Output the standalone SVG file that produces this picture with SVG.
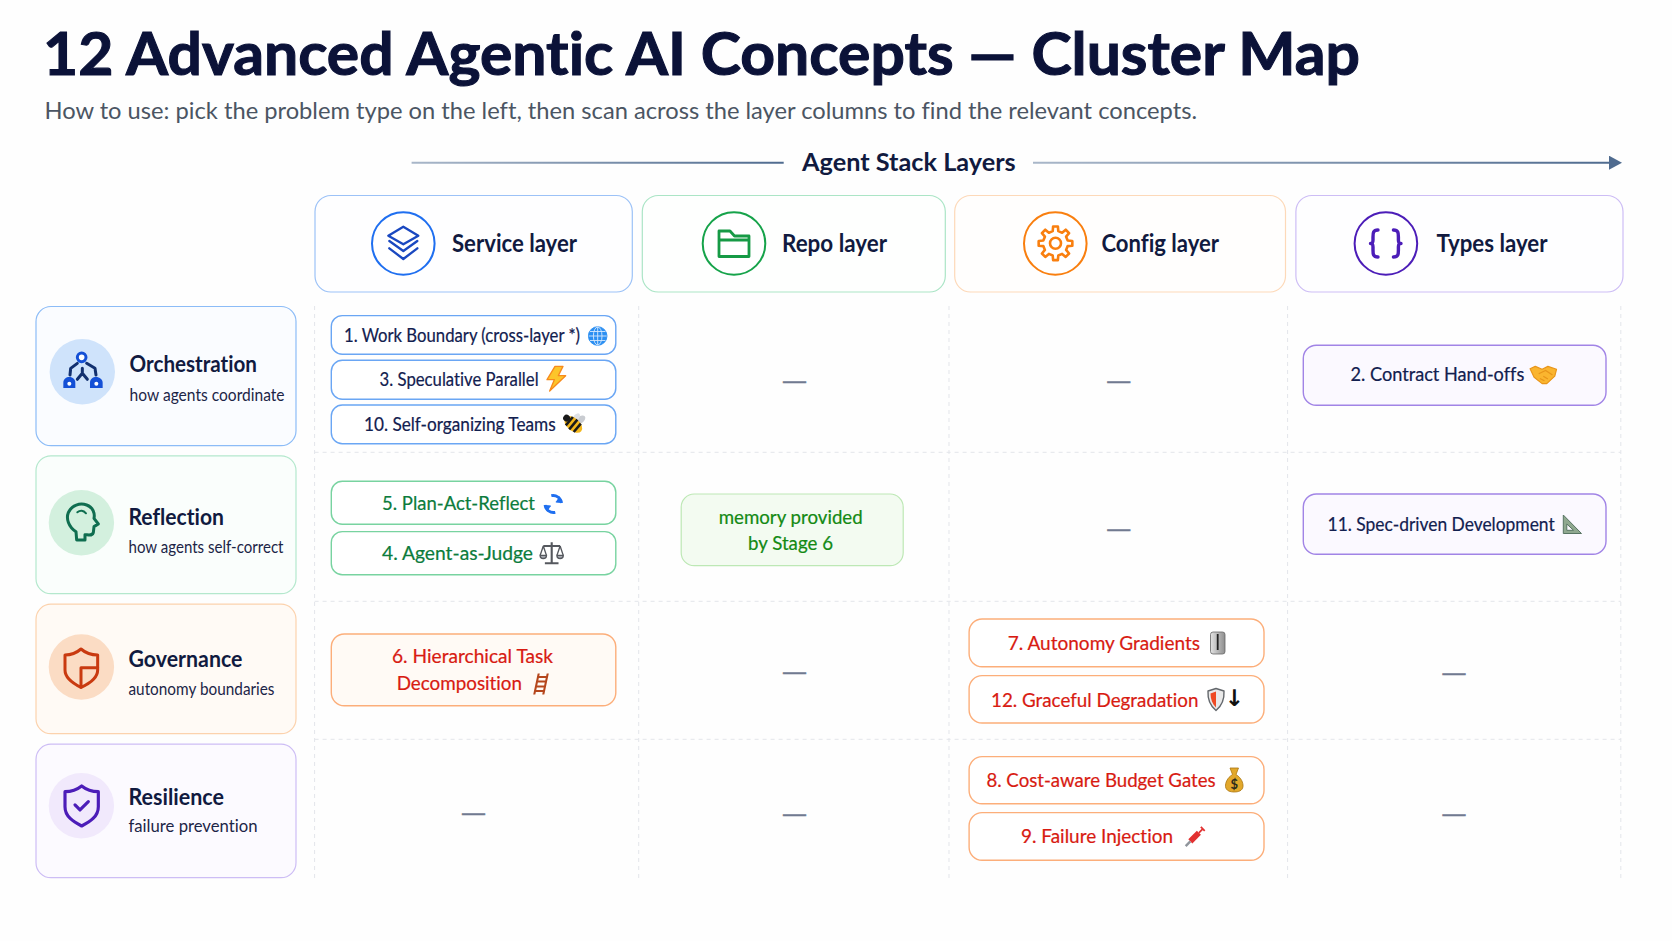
<svg xmlns="http://www.w3.org/2000/svg" width="1672" height="941" viewBox="0 0 1672 941">
<style>
text{font-family:"Lato","Liberation Sans",sans-serif;font-kerning:normal;font-variant-ligatures:none}
.title{font-size:60px;font-weight:700;fill:#0b1238;stroke:#0b1238;stroke-width:1.1}
.sub{font-size:23px;fill:#4b5563}
.axis{font-size:24px;font-weight:700;fill:#111a3f}
.hd{font-size:24px;font-weight:700;fill:#111a3f}
.rt{font-size:23px;font-weight:700;fill:#111a3f}
.rs{font-size:16.5px;fill:#1c2547}
.p{font-size:18.5px;stroke-width:.2}
.navy{fill:#12204f;stroke:#12204f}.green{fill:#0c7c3c;stroke:#0c7c3c}.mem{fill:#138a14;stroke:#138a14}.red{fill:#d81b12;stroke:#d81b12}
.dash{font-size:24px;fill:#717a90;stroke:#717a90;stroke-width:.5}
.card{stroke-width:1.2}
.pill{stroke-width:1.4}
.grid{stroke:#e3e5ea;stroke-width:1;stroke-dasharray:4 4;fill:none}
.ic{fill:none;stroke-linejoin:round;stroke-linecap:round}
</style>
<defs>
<linearGradient id="ax1" gradientUnits="userSpaceOnUse" x1="411" y1="0" x2="784" y2="0"><stop offset="0" stop-color="#a9b7c9"/><stop offset="1" stop-color="#4f6b8f"/></linearGradient>
<linearGradient id="ax2" gradientUnits="userSpaceOnUse" x1="1033" y1="0" x2="1612" y2="0"><stop offset="0" stop-color="#a9b7c9"/><stop offset="1" stop-color="#4f6b8f"/></linearGradient>
<marker id="ah" markerUnits="userSpaceOnUse" markerWidth="13" markerHeight="14" refX="1" refY="7" orient="auto"><path d="M0 0L13 7L0 14Z" fill="#4f6b8f"/></marker>
<linearGradient id="sw" x1="0" y1="0" x2="1" y2="0"><stop offset="0" stop-color="#e2e2e2"/><stop offset="1" stop-color="#8e8e8e"/></linearGradient>
</defs>
<rect width="1672" height="941" fill="#fefefe"/>

<text id="title" class="title" x="43" y="74.500" textLength="1317" lengthAdjust="spacingAndGlyphs">12 Advanced Agentic AI Concepts — Cluster Map</text>
<text id="subtitle" class="sub" x="44.500" y="119" textLength="1152.500" lengthAdjust="spacingAndGlyphs">How to use: pick the problem type on the left, then scan across the layer columns to find the relevant concepts.</text>

<g id="connectors">
<line x1="411.600" y1="162.700" x2="783.700" y2="162.700" stroke="url(#ax1)" stroke-width="2"/>
<line x1="1033" y1="162.700" x2="1610" y2="162.700" stroke="url(#ax2)" stroke-width="2" marker-end="url(#ah)"/>
</g>
<text id="axis-label" class="axis" x="802" y="171" textLength="213.700" lengthAdjust="spacingAndGlyphs">Agent Stack Layers</text>

<g id="grid">
<path class="grid" d="M314.600 306V878M638.700 306V878M949 306V878M1287.600 306V878M1620.800 306V878M314.600 452.300H1620.800M314.600 601.300H1620.800M314.600 739.300H1620.800"/>
</g>

<g id="col-service">
<rect class="card" x="315" y="195.500" width="317.300" height="96.500" rx="16" fill="#fefeff" stroke="#9cc2f7"/>
<circle cx="403.300" cy="243.500" r="31.300" fill="#fff" stroke="#1f6ff0" stroke-width="2"/>
<g class="ic" stroke="#1a48c0" stroke-width="7" transform="translate(360 205) scale(.3333)">
<path d="M130 65L175 92L130 118L85 92Z"/><path d="M88 108L130 138L172 108"/><path d="M88 130L130 162L172 130"/>
</g>
<text class="hd" x="452" y="252" textLength="125" lengthAdjust="spacingAndGlyphs">Service layer</text>
</g>
<g id="col-repo">
<rect class="card" x="642.300" y="195.500" width="303" height="96.500" rx="16" fill="#fefffe" stroke="#abe5c6"/>
<circle cx="734" cy="243.500" r="31.300" fill="#fff" stroke="#16a34a" stroke-width="2"/>
<path class="ic" stroke="#169a45" stroke-width="2.800" d="M719 256.500V231H730L734.500 236H749V256.500ZM719 240H749"/>
<text class="hd" x="782" y="252" textLength="105" lengthAdjust="spacingAndGlyphs">Repo layer</text>
</g>
<g id="col-config">
<rect class="card" x="954.700" y="195.500" width="330.800" height="96.500" rx="16" fill="#fffefd" stroke="#fdd9b9"/>
<circle cx="1055.300" cy="243.500" r="31.300" fill="#fff" stroke="#f97f0f" stroke-width="2"/>
<g class="ic" stroke="#f97f0f" stroke-width="2.600" transform="translate(1055.500 243.300)">
<path d="M-2.810 -12.180L-2.370 -16.830L2.370 -16.830L2.810 -12.180L6.620 -10.600L10.230 -13.580L13.580 -10.230L10.600 -6.620L12.180 -2.810L16.830 -2.370L16.830 2.370L12.180 2.810L10.600 6.620L13.580 10.230L10.230 13.580L6.620 10.600L2.810 12.180L2.370 16.830L-2.370 16.830L-2.810 12.180L-6.620 10.600L-10.230 13.580L-13.580 10.230L-10.600 6.620L-12.180 2.810L-16.830 2.370L-16.830 -2.370L-12.180 -2.810L-10.600 -6.620L-13.580 -10.230L-10.230 -13.580L-6.620 -10.600Z"/>
<circle r="5.500"/>
</g>
<text class="hd" x="1101.500" y="252" textLength="117.500" lengthAdjust="spacingAndGlyphs">Config layer</text>
</g>
<g id="col-types">
<rect class="card" x="1295.900" y="195.500" width="327.100" height="96.500" rx="16" fill="#fefeff" stroke="#cdbdf5"/>
<circle cx="1385.900" cy="243.500" r="31.300" fill="#fff" stroke="#4c1db8" stroke-width="2"/>
<path class="ic" stroke="#4c1db8" stroke-width="3.400" d="M1378 230C1373 230 1373 233 1373 237V240C1373 243 1372 243.500 1370.500 243.500C1372 243.500 1373 244 1373 247V250C1373 254 1373 257 1378 257M1393.400 230C1398.400 230 1398.400 233 1398.400 237V240C1398.400 243 1399.400 243.500 1401 243.500C1399.400 243.500 1398.400 244 1398.400 247V250C1398.400 254 1398.400 257 1393.400 257"/>
<text class="hd" x="1436.500" y="252" textLength="111" lengthAdjust="spacingAndGlyphs">Types layer</text>
</g>

<g id="row-orchestration">
<rect class="card" x="36" y="306.500" width="260" height="139.200" rx="15" fill="#fafcff" stroke="#8cbcf7"/>
<circle cx="82.300" cy="371.700" r="32.700" fill="#cfe3fb"/>
<g transform="translate(40 330) scale(.3333)">
<g class="ic" stroke="#12306f" stroke-width="9">
<path d="M112 100L92 115L90 135M140 100L165 115L168 135M127 115V130L112 148M127 130L142 148"/>
</g>
<circle cx="125" cy="82" r="13" fill="#fff" stroke="#1450d6" stroke-width="9"/>
<path d="M70 174V158C70 147 79 141 88 141C99 141 106 149 106 158V174Z" fill="#1450d6"/>
<path d="M150 174V158C150 147 159 141 168 141C179 141 188 149 188 158V174Z" fill="#1450d6"/>
<circle cx="88" cy="161" r="6" fill="#fff"/><circle cx="169" cy="161" r="6" fill="#fff"/>
</g>
<text class="rt" x="129.600" y="372" textLength="127.400" lengthAdjust="spacingAndGlyphs">Orchestration</text>
<text class="rs" x="129.600" y="401" textLength="155" lengthAdjust="spacingAndGlyphs">how agents coordinate</text>
</g>
<g id="row-reflection">
<rect class="card" x="36" y="455.800" width="260" height="137.900" rx="15" fill="#fafefc" stroke="#b4e8cd"/>
<circle cx="81.400" cy="522.700" r="32.700" fill="#d3f0de"/>
<g class="ic" stroke="#0f6e50" stroke-width="9" transform="translate(40 330) scale(.3333)">
<path d="M110 630L108 605C85 590 78 565 85 548C95 525 120 518 140 525C160 532 165 552 162 565L175 582L162 590L160 608C158 618 148 615 135 614L135 630Z"/>
<path d="M112 547C120 540 130 540 138 550" stroke-width="6"/>
</g>
<text class="rt" x="128.500" y="525" textLength="95.500" lengthAdjust="spacingAndGlyphs">Reflection</text>
<text class="rs" x="128.500" y="553" textLength="155" lengthAdjust="spacingAndGlyphs">how agents self-correct</text>
</g>
<g id="row-governance">
<rect class="card" x="36" y="604.200" width="260" height="129.500" rx="15" fill="#fffaf5" stroke="#fcd2ad"/>
<circle cx="81.400" cy="667" r="32.700" fill="#fbdcc4"/>
<g class="ic" stroke="#c93a10" stroke-width="9" transform="translate(40 625) scale(.3333)">
<path d="M123 72C138 85 155 90 173 90V135C173 160 150 175 123 187C98 175 75 160 75 135V90C92 90 108 85 123 72Z"/>
<path d="M123 187V128H173"/>
</g>
<text class="rt" x="128.500" y="666.500" textLength="114" lengthAdjust="spacingAndGlyphs">Governance</text>
<text class="rs" x="128.500" y="695" textLength="146" lengthAdjust="spacingAndGlyphs">autonomy boundaries</text>
</g>
<g id="row-resilience">
<rect class="card" x="36" y="744.200" width="260" height="133.500" rx="15" fill="#fcfaff" stroke="#cdbdf5"/>
<circle cx="81.400" cy="805.700" r="32.700" fill="#f1e9fc"/>
<g class="ic" stroke="#4c1db8" stroke-width="9.500" transform="translate(40 625) scale(.3333)">
<path d="M125 483C140 495 160 500 175 500V545C175 575 150 590 125 603C100 590 75 575 75 545V500C90 500 110 495 125 483Z"/>
<path d="M105 540L120 555L145 530"/>
</g>
<text class="rt" x="128.500" y="805" textLength="95.500" lengthAdjust="spacingAndGlyphs">Resilience</text>
<text class="rs" x="128.500" y="832" textLength="129" lengthAdjust="spacingAndGlyphs">failure prevention</text>
</g>

<g id="c1">
<rect class="pill" x="331.300" y="315.600" width="284.500" height="38.700" rx="11" fill="#fff" stroke="#6aa6f4"/>
<text class="p navy" x="344" y="341.500" textLength="236" lengthAdjust="spacingAndGlyphs">1. Work Boundary (cross-layer *)</text>
<g fill="none" stroke="#d5e8fd" stroke-width=".9"><circle cx="597.700" cy="336" r="9.300" fill="#2b8ff2" stroke="#2b8ff2"/><ellipse cx="597.700" cy="336" rx="4.300" ry="9"/><path d="M597.700 327V345M588.700 336H606.700M590 331.500H605.400M590 340.500H605.400"/></g>
</g>
<g id="c3">
<rect class="pill" x="331.300" y="360.300" width="284.500" height="39" rx="11" fill="#fff" stroke="#6aa6f4"/>
<text class="p navy" x="379.600" y="386" textLength="159" lengthAdjust="spacingAndGlyphs">3. Speculative Parallel</text>
<path transform="translate(535 313) scale(.3333)" d="M60 160L84 160L70 188L92 188L44 234L58 200L36 200Z" fill="#fcc52a" stroke="#f78a1d" stroke-width="4" stroke-linejoin="round"/>
</g>
<g id="c10">
<rect class="pill" x="331.300" y="405" width="284.500" height="38.700" rx="11" fill="#fff" stroke="#6aa6f4"/>
<text class="p navy" x="364" y="430.500" textLength="191.600" lengthAdjust="spacingAndGlyphs">10. Self-organizing Teams</text>
<g transform="translate(573.300 424.500) rotate(40) scale(1.150)">
<ellipse cx="2" cy="-7" rx="3" ry="5" fill="#c9ccd1" transform="rotate(15 2 -7)"/><ellipse cx="-2" cy="-6" rx="2.500" ry="4.500" fill="#dfe1e4"/>
<ellipse rx="9" ry="5.500" fill="#f3b71b"/><path d="M-4.500 -4.800V4.800M0 -5.500V5.500M4.500 -4.800V4.800" stroke="#1a1a1a" stroke-width="2.200"/><circle cx="-8" cy="-.5" r="3" fill="#1a1a1a"/>
</g>
</g>
<g id="c5">
<rect class="pill" x="331.300" y="481.300" width="284.500" height="43" rx="11" fill="#fff" stroke="#78d3a0"/>
<text class="p green" x="382" y="510" textLength="153" lengthAdjust="spacingAndGlyphs">5. Plan-Act-Reflect</text>
<g fill="none" stroke="#1f6ff0" stroke-width="2.800" transform="translate(553.300 504)"><path d="M-2 -8.300A8.500 8.500 0 0 1 8.300 -1"/><path d="M2 8.300A8.500 8.500 0 0 1 -8.300 1"/><path d="M6 -7.500L8.500 -1.500L2.500 -2" fill="#1f6ff0" stroke-width="1"/><path d="M-6 7.500L-8.500 1.500L-2.500 2" fill="#1f6ff0" stroke-width="1"/></g>
</g>
<g id="c4">
<rect class="pill" x="331.300" y="531.600" width="284.500" height="43.100" rx="11" fill="#fff" stroke="#78d3a0"/>
<text class="p green" x="382" y="560" textLength="151" lengthAdjust="spacingAndGlyphs">4. Agent-as-Judge</text>
<g fill="none" stroke="#55585e" stroke-width="1.300" transform="translate(551.700 553.300) scale(1.050)"><path d="M0 -10.500V9M-6.500 9.500H6.500M-8 -7H8" stroke-width="2"/><path d="M-8 -7L-11 2M-8 -7L-5 2M8 -7L11 2M8 -7L5 2"/><path d="M-11 2A3 3 0 0 0 -5 2ZM5 2A3 3 0 0 0 11 2Z" fill="#a8abb2"/></g>
</g>
<g id="c6">
<rect class="pill" x="331.300" y="634" width="284.500" height="71.700" rx="13" fill="#fffaf5" stroke="#fcae7a"/>
<text class="p red" x="392" y="663.300" textLength="161" lengthAdjust="spacingAndGlyphs">6. Hierarchical Task</text>
<text class="p red" x="396.700" y="690.300" textLength="125.300" lengthAdjust="spacingAndGlyphs">Decomposition</text>
<g stroke="#b5461c" stroke-width="2.100" fill="none" transform="translate(541 684) skewX(-12)"><path d="M-4.500 -10.500V10.500M4.500 -10.500V10.500M-4.500 -7H4.500M-4.500 -2.500H4.500M-4.500 2.500H4.500M-4.500 7H4.500"/></g>
</g>
<g id="c-memory">
<rect class="pill" x="681.200" y="494" width="222" height="71.700" rx="13" fill="#f3fbf1" stroke="#bde8b5" style="stroke-width:1.200"/>
<text class="p mem" x="718.700" y="524" textLength="144" lengthAdjust="spacingAndGlyphs">memory provided</text>
<text class="p mem" x="748" y="550.300" textLength="85" lengthAdjust="spacingAndGlyphs">by Stage 6</text>
</g>
<g id="c2">
<rect class="pill" x="1303.300" y="345.300" width="302.700" height="60" rx="13" fill="#fbf9ff" stroke="#a184e6"/>
<text class="p navy" x="1350.500" y="381" textLength="173.800" lengthAdjust="spacingAndGlyphs">2. Contract Hand-offs</text>
<g transform="translate(1543.300 375) scale(1.150)"><path d="M-11.500 -5.500L-7 -7.500L-1 -5L4 -7.500L11.500 -5L10 1L3 7.500L-1 7.500L-8 2Z" fill="#fab52f" stroke="#e8951a" stroke-width="1" stroke-linejoin="round"/><path d="M-4 -1L2 -4L8 0M-3 3L1 5M0 1L4 3.500" fill="none" stroke="#e8951a" stroke-width="1"/></g>
</g>
<g id="c11">
<rect class="pill" x="1303.300" y="494" width="302.700" height="60.300" rx="13" fill="#fbf9ff" stroke="#a184e6"/>
<text class="p navy" x="1327.600" y="530.500" textLength="227.100" lengthAdjust="spacingAndGlyphs">11. Spec-driven Development</text>
<path d="M1563.300 515V533.500H1581.500ZM1566.800 524V530.300H1573.500Z" fill="#8fa88f" fill-rule="evenodd" stroke="#587563" stroke-width="1" stroke-linejoin="round"/>
</g>
<g id="c7">
<rect class="pill" x="969.100" y="619" width="294.900" height="47.700" rx="13" fill="#fff" stroke="#fcae7a"/>
<text class="p red" x="1007.700" y="650" textLength="192.300" lengthAdjust="spacingAndGlyphs">7. Autonomy Gradients</text>
<rect x="1210.500" y="632" width="14.500" height="22" rx="2.500" fill="url(#sw)" stroke="#666" stroke-width=".8"/><rect x="1216.800" y="634" width="1.800" height="16" fill="#222"/>
</g>
<g id="c12">
<rect class="pill" x="969.100" y="675.600" width="294.900" height="47.400" rx="13" fill="#fff" stroke="#fcae7a"/>
<text class="p red" x="991" y="706.500" textLength="207.500" lengthAdjust="spacingAndGlyphs">12. Graceful Degradation</text>
<path d="M1216 688.500L1224 691C1224.500 700 1221 706.500 1216 710.500C1211 706.500 1207.500 700 1208 691Z" fill="#e9e9e9" stroke="#63676c" stroke-width="1.400" stroke-linejoin="round"/>
<path d="M1216 691.500V707.500C1212.500 704 1210.500 699.500 1210.500 693.500Z" fill="#ef4a24"/>
<text x="1234.300" y="706" text-anchor="middle" style="font-family:'DejaVu Sans',sans-serif;font-size:23px;font-weight:700;fill:#111">↓</text>
</g>
<g id="c8">
<rect class="pill" x="969.100" y="756.600" width="294.900" height="47.100" rx="13" fill="#fff" stroke="#fcae7a"/>
<text class="p red" x="986.400" y="786.500" textLength="229.200" lengthAdjust="spacingAndGlyphs">8. Cost-aware Budget Gates</text>
<path d="M1230 768H1238.500L1236 774.500C1241.500 778 1243.300 783 1243 786.500C1242.500 791 1238 792 1234.300 792C1230.500 792 1226 791 1225.500 786.500C1225.300 783 1227 778 1232.500 774.500Z" fill="#e2a82b" stroke="#a97512" stroke-width=".8" stroke-linejoin="round"/>
<text x="1234.300" y="788.500" text-anchor="middle" style="font-size:13px;font-weight:700;fill:#2c2c1c">$</text>
</g>
<g id="c9">
<rect class="pill" x="969.100" y="812.600" width="294.900" height="47.700" rx="13" fill="#fff" stroke="#fcae7a"/>
<text class="p red" x="1021" y="842.500" textLength="152" lengthAdjust="spacingAndGlyphs">9. Failure Injection</text>
<g transform="translate(1195 836.700) rotate(-45) scale(1.100)"><rect x="-6" y="-2.600" width="11" height="5.200" fill="#e23131"/><path d="M-6 0H-12" stroke="#8f959c" stroke-width="2.200"/><path d="M5 0H10M10 -2.500V2.500" stroke="#e23131" stroke-width="1.600" fill="none"/></g>
</g>

<g id="empty-cells">
<text class="dash" x="781" y="389" textLength="27" lengthAdjust="spacingAndGlyphs">—</text>
<text class="dash" x="1105.200" y="389" textLength="27" lengthAdjust="spacingAndGlyphs">—</text>
<text class="dash" x="1105.200" y="537" textLength="27" lengthAdjust="spacingAndGlyphs">—</text>
<text class="dash" x="781" y="680" textLength="27" lengthAdjust="spacingAndGlyphs">—</text>
<text class="dash" x="1440.500" y="681" textLength="27" lengthAdjust="spacingAndGlyphs">—</text>
<text class="dash" x="460" y="821" textLength="27" lengthAdjust="spacingAndGlyphs">—</text>
<text class="dash" x="781" y="822" textLength="27" lengthAdjust="spacingAndGlyphs">—</text>
<text class="dash" x="1440.500" y="822" textLength="27" lengthAdjust="spacingAndGlyphs">—</text>
</g>
</svg>
